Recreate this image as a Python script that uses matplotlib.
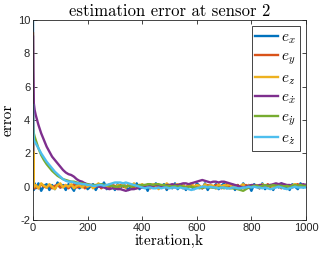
import numpy as np
import matplotlib
matplotlib.use("Agg")
import matplotlib.pyplot as plt

plt.rcParams['mathtext.fontset'] = 'cm'
plt.rcParams['font.family'] = ['Liberation Sans', 'DejaVu Sans']

iterations = np.array([0, 1, 3, 6] + list(range(10, 1001, 10)))

e_x = [10.0, 0.15, -0.2, 0.2,
       -0.1, 0.2, -0.25, 0.05, 0.15, -0.2, 0.1, -0.15, 0.25, -0.05,
       0.1, -0.2, 0.15, 0.0, -0.25, 0.2, -0.1, 0.05, 0.2, -0.15,
       0.0, 0.15, -0.2, 0.1, -0.05, 0.25, -0.15, 0.05, 0.1, -0.2,
       0.15, -0.1, 0.2, 0.0, -0.2, 0.1, -0.05, 0.2, -0.15, 0.05,
       0.1, -0.25, 0.15, -0.05, 0.2, -0.1, 0.0, 0.15, -0.2, 0.1,
       -0.1, 0.2, -0.15, 0.05, 0.15, -0.2, 0.1, 0.0, -0.15, 0.2,
       0.05, -0.1, 0.2, -0.2, 0.1, -0.05, 0.15, -0.15, 0.05, 0.2,
       -0.1, 0.0, 0.15, -0.2, 0.1, -0.15, 0.2, -0.05, 0.1, -0.25,
       0.15, 0.0, -0.1, 0.2, -0.15, 0.05, 0.1, -0.2, 0.15, -0.05,
       0.2, -0.1, 0.05, -0.2, 0.15, 0.0, -0.15, 0.2, -0.05, 0.1]

e_y = [9.2, 0.1, 0.15, -0.1,
       0.05, -0.1, 0.15, 0.0, -0.05, 0.1, -0.1, 0.05, 0.1, -0.05,
       0.0, 0.1, -0.1, 0.05, 0.15, -0.05, 0.0, 0.1, -0.1, 0.05,
       0.1, -0.05, 0.0, 0.15, -0.1, 0.05, 0.0, -0.05, 0.1, 0.05,
       -0.1, 0.1, 0.0, -0.05, 0.15, 0.05, -0.1, 0.0, 0.1, -0.05,
       0.05, 0.1, -0.1, 0.0, 0.15, -0.05, 0.05, 0.1, -0.1, 0.0,
       0.1, -0.05, 0.05, 0.15, -0.1, 0.0, 0.05, 0.1, -0.05, 0.1,
       0.0, -0.1, 0.05, 0.1, 0.0, -0.05, 0.1, 0.05, -0.1, 0.0,
       0.15, -0.05, 0.05, 0.0, 0.1, -0.1, 0.05, 0.1, -0.05, 0.0,
       0.1, 0.05, -0.1, 0.05, 0.0, 0.15, -0.05, 0.1, 0.0, 0.05,
       -0.1, 0.1, 0.05, 0.0, -0.05, 0.1, 0.15, 0.0, 0.05, 0.1]

e_z = [0.3, 2.1, 0.2, 0.0,
       0.1, -0.1, 0.2, 0.05, -0.05, 0.15, 0.0, -0.15, 0.1, 0.2,
       -0.05, 0.1, 0.0, 0.15, -0.1, 0.05, 0.1, -0.05, 0.15, 0.0,
       0.1, -0.1, 0.05, 0.2, 0.0, 0.1, -0.05, 0.15, 0.05, -0.1,
       0.1, 0.0, 0.15, -0.05, 0.1, 0.05, 0.2, -0.1, 0.05, 0.15,
       0.0, 0.1, -0.05, 0.15, 0.05, -0.15, 0.1, 0.0, 0.2, 0.05,
       -0.05, 0.1, 0.15, 0.0, 0.1, -0.1, 0.05, 0.2, 0.0, 0.1,
       0.05, -0.05, 0.15, 0.0, 0.1, 0.05, -0.1, 0.15, 0.0, 0.1,
       0.05, 0.15, -0.05, 0.1, 0.0, 0.05, 0.15, -0.1, 0.1, 0.05,
       0.0, 0.1, -0.05, 0.15, 0.05, 0.0, 0.1, -0.1, 0.05, 0.15,
       0.0, 0.1, 0.05, -0.05, 0.1, 0.15, 0.0, 0.05, 0.1, 0.05]

e_xdot = [9.0, 7.0, 5.0, 4.6,
          4.3, 3.7, 3.2, 2.8, 2.4, 2.1, 1.8, 1.6, 1.4, 1.2,
          1.0, 0.85, 0.75, 0.7, 0.6, 0.45, 0.35, 0.3, 0.2, 0.15,
          0.1, 0.1, 0.05, 0.0, 0.0, -0.05, -0.1, -0.15, -0.1, -0.1,
          -0.15, -0.15, -0.2, -0.25, -0.2, -0.15, -0.15, -0.1, -0.05, -0.05,
          0.0, 0.0, 0.05, 0.05, 0.1, 0.05, 0.0, 0.05, 0.1, 0.1,
          0.15, 0.1, 0.1, 0.15, 0.2, 0.2, 0.15, 0.2, 0.25, 0.3,
          0.35, 0.4, 0.35, 0.3, 0.25, 0.3, 0.3, 0.25, 0.3, 0.3,
          0.25, 0.2, 0.15, 0.1, 0.05, 0.0, -0.05, 0.0, 0.05, 0.1,
          0.1, 0.05, 0.1, 0.1, 0.05, 0.1, 0.1, 0.15, 0.2, 0.15,
          0.2, 0.15, 0.1, 0.1, 0.05, 0.0, 0.05, 0.1, 0.15, 0.1]

e_ydot = [3.6, 3.4, 3.2, 3.0,
          2.8, 2.3, 1.9, 1.6, 1.35, 1.15, 0.95, 0.8, 0.65, 0.55,
          0.45, 0.4, 0.35, 0.3, 0.3, 0.25, 0.2, 0.2, 0.15, 0.15,
          0.1, 0.1, 0.1, 0.1, 0.15, 0.1, 0.1, 0.05, 0.05, 0.0,
          0.0, 0.05, 0.05, 0.0, 0.05, 0.0, 0.05, 0.05, 0.1, 0.1,
          0.1, 0.15, 0.15, 0.1, 0.15, 0.15, 0.1, 0.1, 0.05, 0.05,
          0.0, 0.05, 0.0, 0.05, 0.0, -0.05, 0.0, 0.0, -0.05, -0.05,
          -0.1, -0.05, -0.05, 0.0, -0.05, -0.05, -0.1, -0.05, -0.05, -0.1,
          -0.05, -0.1, -0.1, -0.1, -0.15, -0.2, -0.25, -0.15, -0.05, 0.0,
          0.05, 0.05, 0.0, 0.05, 0.1, 0.05, 0.05, 0.1, 0.05, 0.05,
          0.05, 0.0, 0.05, 0.0, 0.05, 0.1, 0.05, 0.1, 0.05, 0.05]

e_zdot = [4.9, 3.5, 2.8, 2.7,
          2.6, 2.3, 2.0, 1.75, 1.5, 1.3, 1.1, 0.9, 0.75, 0.6,
          0.45, 0.35, 0.3, 0.3, 0.25, 0.2, 0.2, 0.15, 0.15, 0.1,
          0.1, 0.05, 0.05, 0.1, 0.1, 0.05, 0.1, 0.15, 0.2, 0.25,
          0.25, 0.25, 0.2, 0.25, 0.2, 0.15, 0.1, 0.05, 0.0, -0.05,
          -0.1, -0.05, -0.05, -0.1, -0.1, -0.05, -0.1, -0.05, -0.05, -0.1,
          -0.05, -0.05, -0.1, -0.05, -0.1, -0.1, -0.15, -0.2, -0.15, -0.1,
          -0.05, 0.0, 0.0, -0.05, 0.0, -0.05, -0.05, -0.1, -0.05, -0.05,
          -0.1, -0.1, -0.05, -0.05, -0.1, -0.1, -0.05, -0.05, 0.0, -0.05,
          0.0, -0.05, -0.05, -0.1, -0.05, -0.1, -0.15, -0.1, -0.05, 0.0,
          -0.05, -0.1, -0.15, -0.1, -0.05, 0.0, -0.05, -0.05, -0.05, -0.05]

series = [e_x, e_y, e_z, e_xdot, e_ydot, e_zdot]
labels = [r'$e_x$', r'$e_y$', r'$e_z$', r'$e_{\dot{x}}$', r'$e_{\dot{y}}$', r'$e_{\dot{z}}$']
colors = ['#0072BD', '#D95319', '#EDB120', '#7E2F8E', '#77AC30', '#4DBEEE']

fig = plt.figure(figsize=(3.19, 2.56), dpi=100)
ax = fig.add_axes([33/319, 36/256, 273/319, 200/256])

for vals, lab, col in zip(series, labels, colors):
    ax.plot(iterations, vals, color=col, lw=1.7, label=lab)

ax.set_xlim(0, 1000)
ax.set_ylim(-2, 10)
ax.set_xticks([0, 200, 400, 600, 800, 1000])
ax.set_yticks([-2, 0, 2, 4, 6, 8, 10])
ax.set_yticklabels(['-2', '0', '2', '4', '6', '8', '10'])
ax.tick_params(direction='in', length=3, width=0.6, labelsize=8, colors='#262626',
               top=True, right=True, pad=2)
for sp in ax.spines.values():
    sp.set_color('#262626')
    sp.set_linewidth(0.6)

ax.set_title('estimation error at sensor 2', fontfamily='cmr10', fontsize=12, pad=3)
ax.set_xlabel('iteration,k', fontfamily='cmr10', fontsize=11, labelpad=1)
ax.set_ylabel('error', fontfamily='cmr10', fontsize=11, labelpad=2)

leg = ax.legend(loc='upper right', fontsize=11, handlelength=1.5, handletextpad=0.2,
                borderpad=0.25, labelspacing=0.26, fancybox=False, framealpha=1,
                edgecolor='#262626', borderaxespad=0.4)
leg.get_frame().set_linewidth(0.6)

fig.savefig('out.png', dpi=100)
